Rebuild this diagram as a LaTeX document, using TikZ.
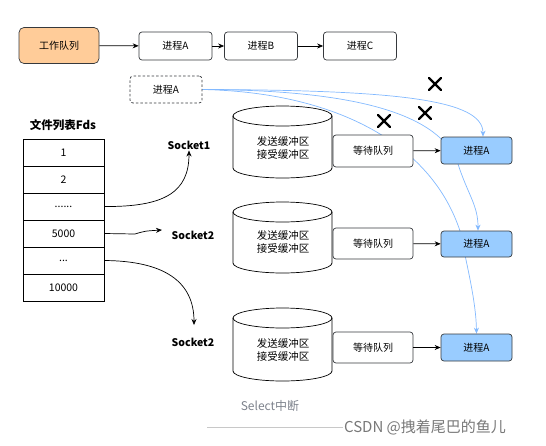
\documentclass[tikz,border=0pt]{standalone}
\usepackage{fontspec}
\setmainfont{Noto Sans CJK SC}
\usetikzlibrary{arrows.meta,backgrounds}
\definecolor{orangefill}{RGB}{255,204,153}
\definecolor{bluefill}{RGB}{153,204,255}
\definecolor{edgedark}{RGB}{54,57,61}
\definecolor{curveblue}{RGB}{130,185,255}
\definecolor{selgray}{RGB}{125,130,140}
\definecolor{wmgray}{RGB}{120,120,120}
\begin{document}
\begin{tikzpicture}[x=1pt,y=1pt,
  txt/.style={font=\fontsize{10}{12}\selectfont},
  box/.style={txt,draw=edgedark,fill=white,rounded corners=3pt,minimum width=73pt,minimum height=28pt,inner sep=0pt,line width=0.7pt},
  orangebox/.style={box,fill=orangefill,minimum width=80pt,minimum height=36pt,rounded corners=5pt},
  dbox/.style={box,dash pattern=on 2.5pt off 2pt,minimum width=72pt,minimum height=27pt},
  waitbox/.style={box,minimum width=80pt,minimum height=31pt},
  bluebox/.style={box,fill=bluefill,minimum width=71pt,minimum height=27pt},
  cell/.style={font=\fontsize{10.5}{12}\selectfont,draw=black,fill=white,minimum width=81pt,minimum height=27pt,inner sep=0pt,line width=0.7pt},
  sock/.style={font=\fontsize{10.5}{12}\selectfont\bfseries,inner sep=1pt},
  arr/.style={-{Stealth[length=6pt,width=5pt]},line width=0.7pt},
  barr/.style={-{Stealth[length=6pt,width=5pt]},draw=curveblue,line width=0.7pt},
  cross/.style={line width=2.2pt,line cap=round},
  cyl/.style={draw=black,fill=white,line width=0.7pt}
]
\useasboundingbox (0,0) rectangle (546,-445);

% top row
\node[orangebox] (wq) at (59,-45.5) {工作队列};
\node[box] (pA) at (175.5,-46) {进程A};
\node[box] (pB) at (261,-46) {进程B};
\node[box] (pC) at (360,-46) {进程C};
\draw[arr] (wq) -- (pA);
\draw[arr] (pA) -- (pB);
\draw[arr] (pB) -- (pC);

\node[dbox] (pd) at (166,-89.5) {进程A};

% file table
\node[font=\fontsize{11.5}{13}\selectfont\bfseries] (title) at (63,-125) {文件列表Fds};
\node[cell] (r1) at (63.5,-152.5) {1};
\node[cell] (r2) at (63.5,-179.5) {2};
\node[cell] (r3) at (63.5,-206.5) {......};
\node[cell] (r4) at (63.5,-233.5) {5000};
\node[cell] (r5) at (63.5,-260.5) {...};
\node[cell] (r6) at (63.5,-287.5) {10000};

% sockets
\node[sock] (s1) at (189,-145) {Socket1};
\node[sock] (s2) at (193,-235) {Socket2};
\node[sock] (s3) at (193,-342) {Socket2};
\coordinate (s2in) at (162,-230);
\coordinate (s3in) at (194,-325);
\draw[arr] (r3.east) .. controls (165,-207) and (189,-192) .. (s1.south);
\draw[arr] (r4.east) -- (135,-234) .. controls (145,-231) .. (s2in);
\draw[arr] (r5.east) .. controls (165,-261) and (194,-282) .. (s3in);

% cylinders
\foreach \yt/\yb in {116/168, 212/263, 318/371}{
  \draw[cyl] (233,-\yt) -- (233,-\yb) arc[start angle=180,end angle=360,x radius=49.5,y radius=10]
     -- (332,-\yt) arc[start angle=0,end angle=180,x radius=49.5,y radius=10] -- cycle;
  \draw[line width=0.7pt] (233,-\yt) arc[start angle=180,end angle=360,x radius=49.5,y radius=10];
}
\node[txt,align=center,font=\fontsize{10.5}{13}\selectfont] (c1) at (283,-148) {发送缓冲区\\接受缓冲区};
\node[txt,align=center,font=\fontsize{10.5}{13}\selectfont] (c2) at (283,-242) {发送缓冲区\\接受缓冲区};
\node[txt,align=center,font=\fontsize{10.5}{13}\selectfont] (c3) at (283,-350) {发送缓冲区\\接受缓冲区};

% wait queues and processes
\node[waitbox,minimum height=32pt] (w1) at (373,-151) {等待队列};
\node[waitbox] (w2) at (373,-243.5) {等待队列};
\node[waitbox] (w3) at (373,-347.5) {等待队列};
\node[bluebox] (b1) at (476.5,-150.5) {进程A};
\node[bluebox,minimum height=26pt] (b2) at (476.5,-244) {进程A};
\node[bluebox] (b3) at (476.5,-347.5) {进程A};
\draw[arr] (w1) -- (b1);
\draw[arr] (w2) -- (b2);
\draw[arr] (w3) -- (b3);

% blue curves behind boxes
\begin{pgfonlayer}{background}
\draw[barr] (pd.east) .. controls (400,-90) and (483,-100) .. ([xshift=6.5pt]b1.north);
\draw[barr] (pd.east) .. controls (360,-90) and (440,-115) .. (458,-164)
   .. controls (468,-195) and (478,-205) .. ([xshift=1.5pt]b2.north);
\draw[barr] (pd.east) .. controls (330,-92) and (430,-140) .. (460,-231)
   .. controls (466,-262) and (476,-300) .. (b3.north);
\end{pgfonlayer}

% crosses
\foreach \cx/\cy in {435/84, 425/113, 384/121}{
  \draw[cross] (\cx-6,-\cy+6) -- (\cx+6,-\cy-6);
  \draw[cross] (\cx-6,-\cy-6) -- (\cx+6,-\cy+6);
}

% bottom texts
\node[text=selgray,font=\fontsize{12}{14}\selectfont] (sel) at (270,-406) {Select中断};
\node[text=wmgray,font=\fontsize{15}{17}\selectfont,inner sep=1pt] (wm) at (425,-427) {CSDN @拽着尾巴的鱼儿};
\coordinate (lstart) at (207,-427);
\begin{pgfonlayer}{background}
\draw[draw={rgb,255:red,200;green,200;blue,200},line width=0.7pt] (lstart) -- (wm.west);
\end{pgfonlayer}
\end{tikzpicture}
\end{document}
